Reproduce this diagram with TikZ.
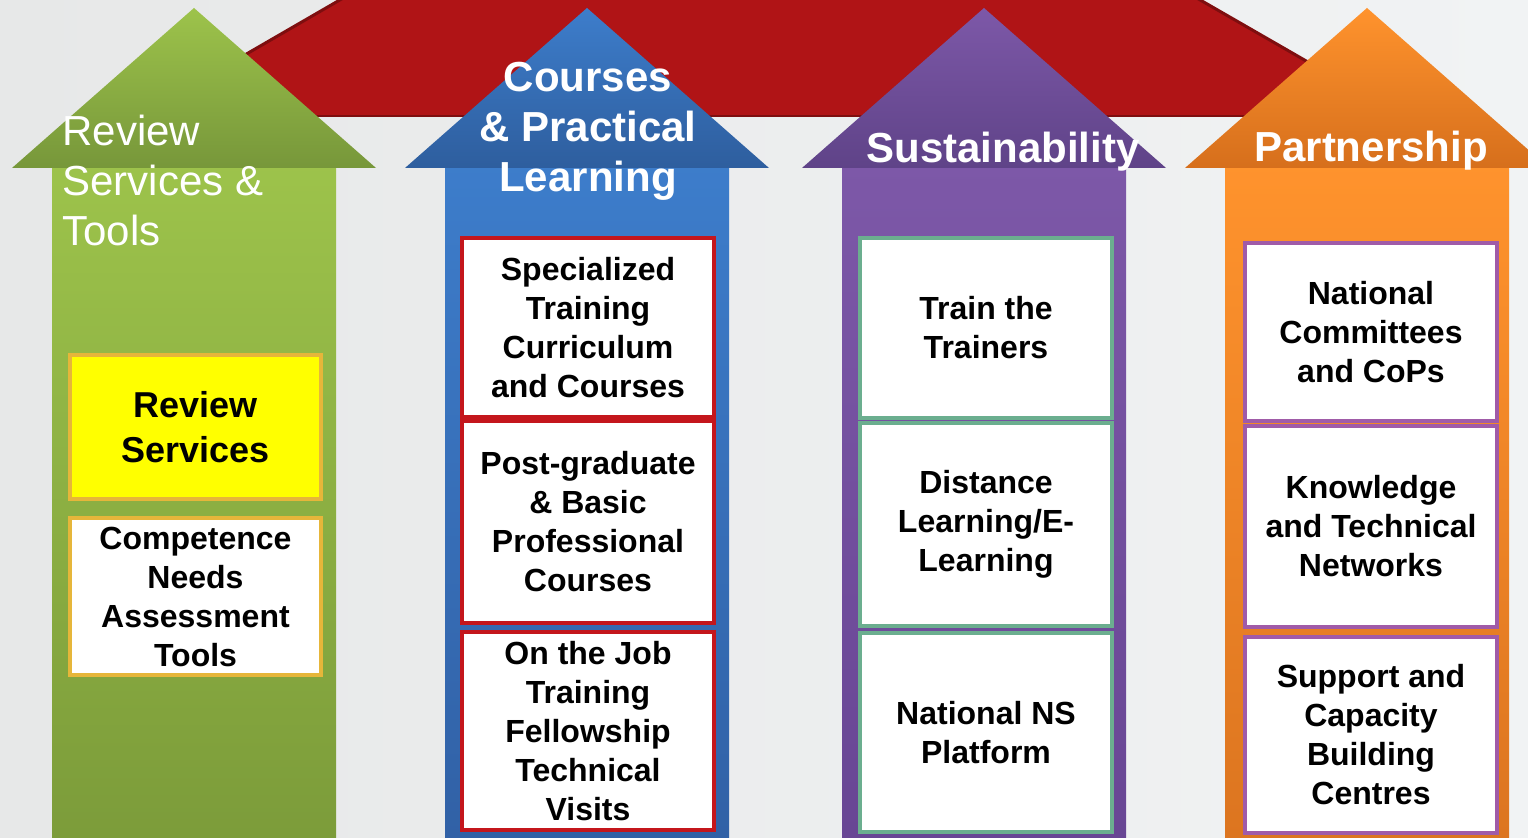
\documentclass[tikz,border=0pt]{standalone}
\usepackage{fontspec}
\setmainfont{Liberation Sans}
\definecolor{bgleft}{HTML}{E7E8E8}
\definecolor{bgright}{HTML}{F1F3F4}
\definecolor{roof}{HTML}{B01416}
\definecolor{roofdark}{HTML}{7E0E0F}
\definecolor{grntop}{HTML}{9DC34B}
\definecolor{grnbot}{HTML}{77973A}
\definecolor{grnshaft}{HTML}{7C9C3A}
\definecolor{blutop}{HTML}{3D7DCB}
\definecolor{blubot}{HTML}{2E5E9E}
\definecolor{blushaft}{HTML}{3161A6}
\definecolor{purtop}{HTML}{7D58A8}
\definecolor{purbot}{HTML}{5F4388}
\definecolor{purshaft}{HTML}{684694}
\definecolor{orgtop}{HTML}{FF932D}
\definecolor{orgbot}{HTML}{D66F1C}
\definecolor{orgshaft}{HTML}{DC7520}
\definecolor{boxgold}{HTML}{E6B63A}
\definecolor{boxred}{HTML}{C4161C}
\definecolor{boxteal}{HTML}{6BAE8F}
\definecolor{boxpink}{HTML}{A05BA8}
\definecolor{hiyellow}{HTML}{FFFF00}

\begin{document}
\begin{tikzpicture}[x=0.5pt,y=-0.5pt,
title/.style={text=white,inner sep=0pt,align=center,font=\fontsize{21}{25}\selectfont\bfseries},
itembox/.style={draw,line width=2pt,fill=white,minimum width=126pt,inner sep=2pt,align=center,
  font=\fontsize{16}{19.5}\selectfont\bfseries}]

\useasboundingbox (0,0) rectangle (1528,838);
\clip (0,0) rectangle (1528,838);
\shade[left color=bgleft,right color=bgright] (0,0) rectangle (1528,838);

% red roof behind the pillars
\fill[roof] (141,115) -- (345,-3) -- (1195,-3) -- (1400,115) -- cycle;
\draw[roofdark,line width=1.5pt] (141,115) -- (345,-3);
\draw[roofdark,line width=1.5pt] (1195,-3) -- (1400,115);
\draw[roofdark,line width=1pt] (141,116) -- (1400,116);

% pillars
\foreach \cx/\c in {194/grn,587/blu,984/pur,1367/org}{
  \shade[top color=\c top,bottom color=\c shaft] (\cx-142,160) rectangle (\cx+142,838);
  \shade[top color=\c top,bottom color=\c bot] (\cx,8) -- (\cx+182,168) -- (\cx-182,168) -- cycle;
}

% titles
\node[title,anchor=north west,align=left,font=\fontsize{21}{25}\selectfont] (ttools) at (62,115) {Review\\Services \&\\Tools};
\node[title,anchor=north] (tcourses) at (588,62) {Courses\\\& Practical\\Learning};
\node[title,anchor=base] (tsustain) at (1003,163) {Sustainability};
\node[title,anchor=base] (tpartner) at (1371,162) {Partnership};

% review services & tools
\node[itembox,draw=boxgold,fill=hiyellow,minimum width=125.5pt,minimum height=72pt,font=\fontsize{18}{22.5}\selectfont\bfseries] (review) at (195.5,427) {Review\\Services};
\node[itembox,draw=boxgold,minimum width=125.5pt,minimum height=78.5pt] (needs) at (195.5,596.5) {Competence\\Needs\\Assessment\\Tools};

% courses & practical learning
\node[itembox,draw=boxred,minimum height=89.5pt] (curric) at (588,327.5) {Specialized\\Training\\Curriculum\\and Courses};
\node[itembox,draw=boxred,minimum height=101pt] (postgrad) at (588,522) {Post-graduate\\\& Basic\\Professional\\Courses};
\node[itembox,draw=boxred,minimum height=99pt] (onjob) at (588,731) {On the Job\\Training\\Fellowship\\Technical\\Visits};

% sustainability
\node[itembox,draw=boxteal,minimum height=90pt] (trainers) at (986,328) {Train the\\Trainers};
\node[itembox,draw=boxteal,minimum height=101.5pt] (distance) at (986,524.5) {Distance\\Learning/E-\\Learning};
\node[itembox,draw=boxteal,minimum height=99.5pt] (platform) at (986,732.5) {National NS\\Platform};

% partnership
\node[itembox,draw=boxpink,minimum height=89pt] (cops) at (1371,332) {National\\Committees\\and CoPs};
\node[itembox,draw=boxpink,minimum height=100.5pt] (networks) at (1371,526.5) {Knowledge\\and Technical\\Networks};
\node[itembox,draw=boxpink,minimum height=98pt] (centres) at (1371,735) {Support and\\Capacity\\Building\\Centres};
\end{tikzpicture}
\end{document}
